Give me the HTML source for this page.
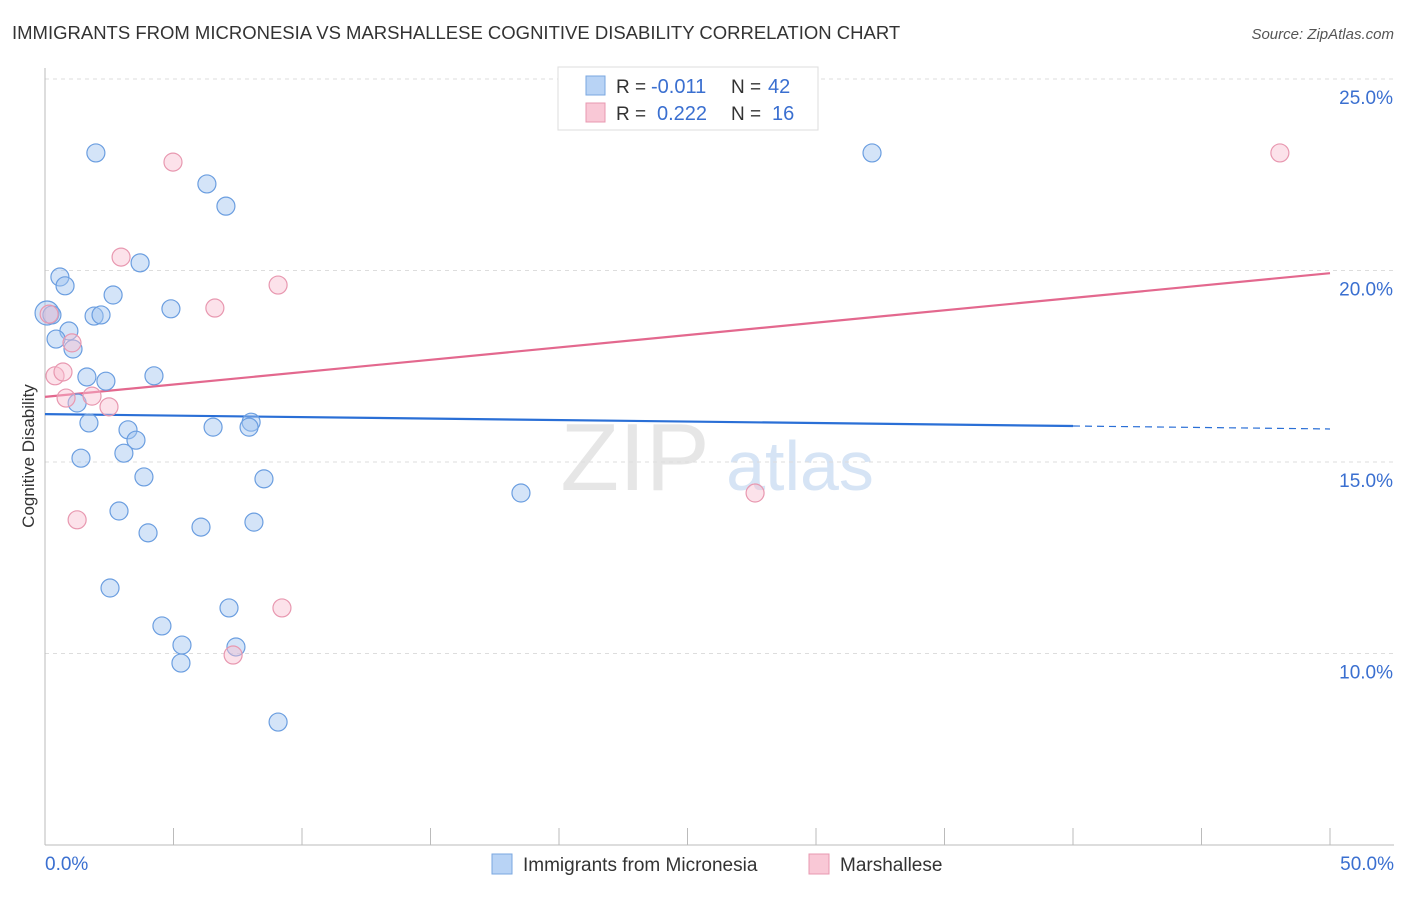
<!DOCTYPE html>
<html><head><meta charset="utf-8">
<style>
body{margin:0;background:#fff;font-family:"Liberation Sans",sans-serif;}
svg text{font-family:"Liberation Sans",sans-serif;}
</style></head><body>
<svg id="chart" width="1406" height="892">
<text x="12" y="39" font-size="18.5" fill="#333">IMMIGRANTS FROM MICRONESIA VS MARSHALLESE COGNITIVE DISABILITY CORRELATION CHART</text>
<text x="1394" y="39" font-size="15" fill="#555" font-style="italic" text-anchor="end">Source: ZipAtlas.com</text>
<g>
<text x="635" y="490" font-size="96" fill="#e6e6e6" font-family="Liberation Serif" text-anchor="middle">ZIP</text>
<text x="800" y="490" font-size="70" fill="#d6e4f5" text-anchor="middle">atlas</text>
</g>
<g id="grid"></g>
<g id="axes"></g>
<g id="lines"></g>
<g id="points"></g>
<text transform="translate(34,456) rotate(-90)" font-size="17" fill="#333" text-anchor="middle">Cognitive Disability</text>
<g>
<rect x="558" y="67" width="260" height="63" fill="#fff" stroke="#ddd"/>
<rect x="586" y="76" width="19" height="19" fill="#b8d3f5" stroke="#7aa7e0"/>
<text x="616" y="93" font-size="19" fill="#333">R =</text>
<text x="651" y="93" font-size="20" fill="#3a6fd0">-0.011</text>
<text x="731" y="93" font-size="19" fill="#333">N =</text>
<text x="768" y="93" font-size="20" fill="#3a6fd0">42</text>
<rect x="586" y="103" width="19" height="19" fill="#f9c8d6" stroke="#e898b0"/>
<text x="616" y="120" font-size="19" fill="#333">R =</text>
<text x="657" y="120" font-size="20" fill="#3a6fd0">0.222</text>
<text x="731" y="120" font-size="19" fill="#333">N =</text>
<text x="772" y="120" font-size="20" fill="#3a6fd0">16</text>
</g>
<g>
<rect x="492" y="854" width="20" height="20" fill="#b8d3f5" stroke="#7aa7e0"/>
<text x="523" y="871" font-size="19" fill="#333">Immigrants from Micronesia</text>
<rect x="809" y="854" width="20" height="20" fill="#f9c8d6" stroke="#e898b0"/>
<text x="840" y="871" font-size="19" fill="#333">Marshallese</text>
</g>
</svg>
<script>
const yTicks=[10,15,20,25];
const yTickLabels=["10.0%","15.0%","20.0%","25.0%"];
const xTickLabels=["0.0%","50.0%"];
const blueX=[1.98,6.30,7.04,3.70,0.58,0.78,2.65,4.90,1.91,2.18,0.08,0.27,0.93,0.43,1.09,1.63,2.37,4.24,1.25,1.71,8.02,7.94,6.54,3.23,3.54,3.07,1.40,3.85,8.52,18.52,2.88,8.13,6.07,4.01,2.53,7.16,4.55,5.33,7.43,5.29,9.07,32.18];
const blueY=[23.07,22.26,21.68,20.20,19.83,19.60,19.36,19.00,18.81,18.84,18.89,18.84,18.42,18.21,17.95,17.22,17.11,17.25,16.54,16.02,16.04,15.91,15.91,15.84,15.57,15.23,15.10,14.61,14.56,14.19,13.72,13.43,13.30,13.15,11.71,11.19,10.72,10.22,10.17,9.75,8.21,23.07];
const pinkX=[4.98,2.96,9.07,6.61,0.16,1.05,0.39,0.70,0.82,1.83,2.49,1.25,27.63,9.22,7.32,48.05];
const pinkY=[22.83,20.35,19.62,19.02,18.86,18.11,17.25,17.35,16.67,16.72,16.44,13.49,14.19,11.19,9.96,23.07];
const blueTrend=[16.25,15.94]; // value at x=0 and x=40
const pinkTrend=[16.70,19.93]; // value at x=0 and x=50
const NS="http://www.w3.org/2000/svg";
const xs=v=>45+v*25.7;
const ys=v=>79+(25-v)*38.3;
function mk(tag,attrs,parent){const e=document.createElementNS(NS,tag);for(const k in attrs)e.setAttribute(k,attrs[k]);document.getElementById(parent).appendChild(e);return e;}
yTicks.forEach((t,i)=>{
 const l=mk('line',{x1:45,x2:1394,y1:ys(t),y2:ys(t),stroke:'#ddd','stroke-dasharray':'4,4'},'grid');
 
 
 const tx=mk('text',{x:1393,y:ys(t)+25,'font-size':19,fill:'#3a6fd0','text-anchor':'end'},'axes');
 tx.textContent=yTickLabels[i];
 
 
});
const ya=mk('line',{x1:45,x2:45,y1:68,y2:845,stroke:'#bbb'},'axes');


const xa=mk('line',{x1:45,x2:1394,y1:845,y2:845,stroke:'#bbb'},'axes');


for(let i=0;i<=10;i++){
 const t=mk('line',{x1:xs(i*5),x2:xs(i*5),y1:828,y2:845,stroke:'#bbb'},'axes');
 
 
}
[[0,'start',45],[50,'end',1394]].forEach((d,i)=>{
 const tx=mk('text',{x:d[2],y:870,'font-size':19,fill:'#3a6fd0','text-anchor':d[1]},'axes');
 tx.textContent=xTickLabels[i];
 
 
});
const bs=(blueTrend[1]-blueTrend[0])/40;
let l1=mk('line',{x1:xs(0),y1:ys(blueTrend[0]),x2:xs(40),y2:ys(blueTrend[1]),stroke:'#2a6fd6','stroke-width':2.2},'lines');


let l2=mk('line',{x1:xs(40),y1:ys(blueTrend[1]),x2:xs(50),y2:ys(blueTrend[0]+bs*50),stroke:'#2a6fd6','stroke-width':1.2,'stroke-dasharray':'7,5'},'lines');


let l3=mk('line',{x1:xs(0),y1:ys(pinkTrend[0]),x2:xs(50),y2:ys(pinkTrend[1]),stroke:'#e3688e','stroke-width':2.2},'lines');


blueX.forEach((x,i)=>{
 const c=mk('circle',{cx:xs(x),cy:ys(blueY[i]),r:(i==10?12:9),fill:'rgba(160,195,240,0.45)',stroke:'#6b9ee0','stroke-width':1.2},'points');
 
 
});
pinkX.forEach((x,i)=>{
 const c=mk('circle',{cx:xs(x),cy:ys(pinkY[i]),r:9,fill:'rgba(248,190,208,0.45)',stroke:'#e898b0','stroke-width':1.2},'points');
 
 
});
</script>
</body></html>
